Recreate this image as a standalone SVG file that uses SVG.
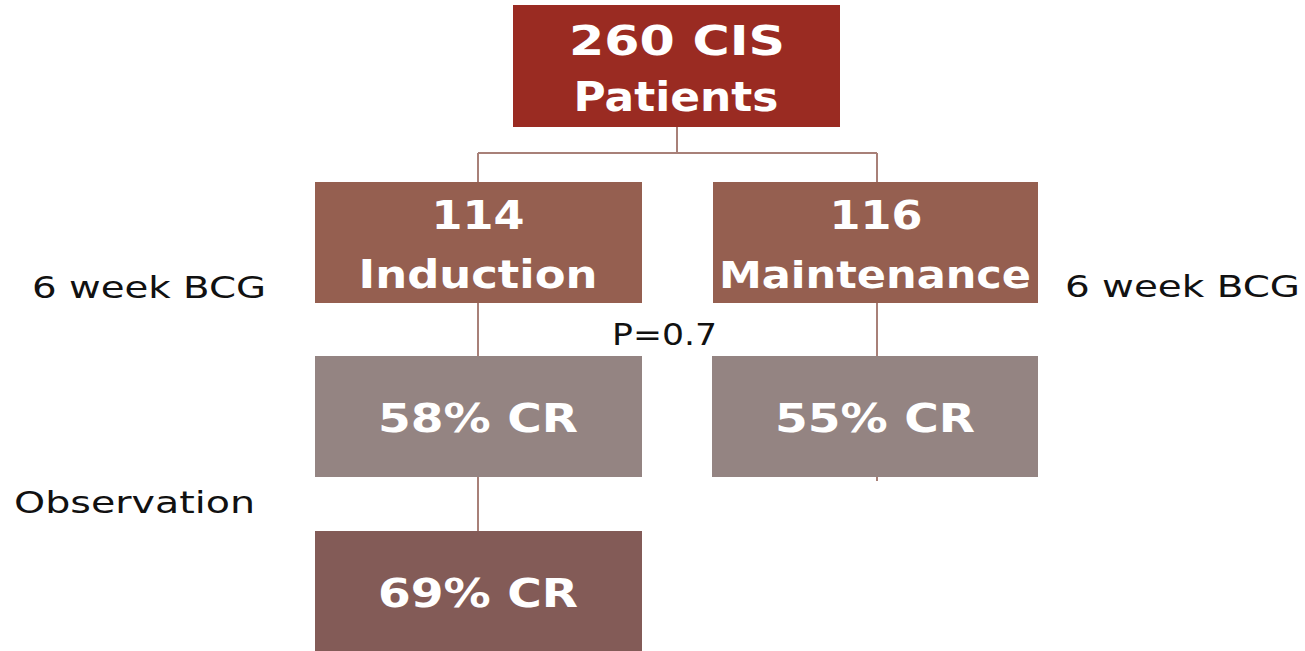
<svg xmlns="http://www.w3.org/2000/svg" width="1305" height="651" viewBox="0 0 1305 651">
  <style>
    .box-title { font-family: "DejaVu Sans", "Liberation Sans", sans-serif; font-weight: bold; fill: #ffffff; text-anchor: middle; }
    .side { font-family: "DejaVu Sans", "Open Sans", sans-serif; fill: #111111; font-size: 30px; }
    .link { stroke: #a88078; stroke-width: 2; fill: none; }
  </style>
  <rect width="1305" height="651" fill="#ffffff"/>

  <!-- connectors -->
  <g id="connectors">
    <path class="link" d="M677 127 V153 M478 153 H877 M478 153 V182 M877 153 V182"/>
    <path class="link" d="M478 303 V356"/>
    <path class="link" d="M877 303 V356"/>
    <path class="link" d="M478 477 V531"/>
    <path class="link" d="M877 477 V481"/>
  </g>

  <!-- patients -->
  <g id="node-patients">
    <rect x="513" y="5" width="327" height="122" fill="#9a2b22"/>
    <text class="box-title" x="677" y="55" font-size="41" textLength="216" lengthAdjust="spacingAndGlyphs">260 CIS</text>
    <text class="box-title" x="676" y="111" font-size="41" textLength="205" lengthAdjust="spacingAndGlyphs">Patients</text>
  </g>

  <!-- induction arm -->
  <g id="node-induction">
    <rect x="315" y="182" width="327" height="121" fill="#955f50"/>
    <text class="box-title" x="478" y="229" font-size="39" textLength="93" lengthAdjust="spacingAndGlyphs">114</text>
    <text class="box-title" x="478" y="288" font-size="39" textLength="239" lengthAdjust="spacingAndGlyphs">Induction</text>
  </g>

  <!-- maintenance arm -->
  <g id="node-maintenance">
    <rect x="713" y="182" width="325" height="121" fill="#955f50"/>
    <text class="box-title" x="876" y="229" font-size="39" textLength="93" lengthAdjust="spacingAndGlyphs">116</text>
    <text class="box-title" x="875" y="288" font-size="38" textLength="312" lengthAdjust="spacingAndGlyphs">Maintenance</text>
  </g>

  <!-- responses -->
  <g id="node-cr-induction">
    <rect x="315" y="356" width="327" height="121" fill="#948482"/>
    <text class="box-title" x="478" y="432" font-size="39" textLength="200" lengthAdjust="spacingAndGlyphs">58% CR</text>
  </g>
  <g id="node-cr-maintenance">
    <rect x="712" y="356" width="326" height="121" fill="#948482"/>
    <text class="box-title" x="875" y="432" font-size="39" textLength="200" lengthAdjust="spacingAndGlyphs">55% CR</text>
  </g>
  <g id="node-cr-observation">
    <rect x="315" y="531" width="327" height="125" fill="#835b57"/>
    <text class="box-title" x="478" y="607" font-size="39" textLength="200" lengthAdjust="spacingAndGlyphs">69% CR</text>
  </g>

  <!-- side labels -->
  <g id="labels">
    <text class="side" x="32" y="298" textLength="234" lengthAdjust="spacingAndGlyphs">6 week BCG</text>
    <text class="side" x="1065" y="297" textLength="235" lengthAdjust="spacingAndGlyphs">6 week BCG</text>
    <text class="side" x="14" y="513" textLength="241" lengthAdjust="spacingAndGlyphs">Observation</text>
    <text class="side" x="612" y="345" textLength="105" lengthAdjust="spacingAndGlyphs">P=0.7</text>
  </g>
</svg>
